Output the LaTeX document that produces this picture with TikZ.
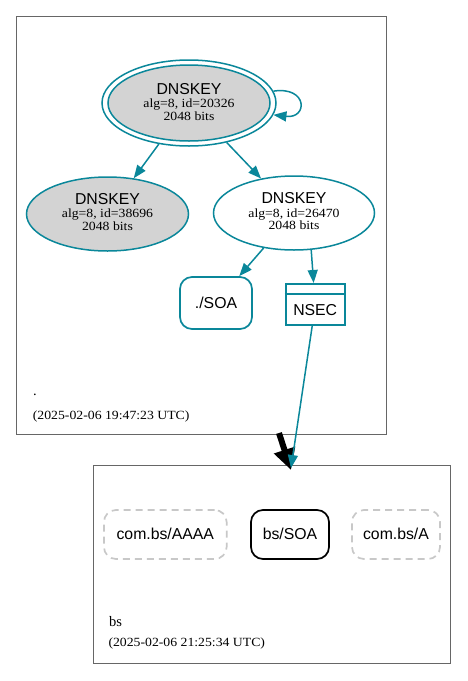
\documentclass[tikz,border=0pt]{standalone}
\usepackage{fontspec}
\setmainfont{Liberation Serif}
\setsansfont{Liberation Sans}
\newfontfamily\subfont[FakeStretch=1.1]{Liberation Serif}
\usetikzlibrary{shapes.geometric,arrows.meta}
\definecolor{teal0}{HTML}{0A879A}
\definecolor{keygray}{HTML}{D3D3D3}
\definecolor{clgray}{HTML}{666666}
\definecolor{dashgray}{HTML}{C8C8C8}
\begin{document}
\begin{tikzpicture}[x=1pt,y=-1pt,
  lbl/.style={font=\sffamily\fontsize{15.8}{16}\selectfont, anchor=base, inner sep=0},
  sub/.style={font=\subfont\fontsize{12.5}{13}\selectfont, anchor=base, inner sep=0},
  zlbl/.style={font=\fontsize{14.5}{15}\selectfont, anchor=base west, inner sep=0},
  zts/.style={font=\subfont\fontsize{12.5}{13}\selectfont, anchor=base west, inner sep=0},
  cl/.style={draw=clgray, line width=0.9pt, inner sep=0},
  key/.style={ellipse, draw=teal0, line width=1.5pt, inner sep=0},
  edge/.style={draw=teal0, line width=1.5pt, -{Triangle[length=13pt,width=10pt]}},
  rec/.style={rectangle, rounded corners=12pt, inner sep=0, line width=1.7pt,
    font=\sffamily\fontsize{15.8}{16}\selectfont, text height=11.3pt, text depth=1.3pt},
  ghost/.style={rec, draw=dashgray, dash pattern=on 7pt off 5pt},
]
\useasboundingbox (0,0) rectangle (467,681);
% clusters
\node[cl, minimum width=370.5pt, minimum height=418pt] (topcl) at (201.25,225) {};
\node[cl, minimum width=357.4pt, minimum height=197.3pt] (botcl) at (272,564.3) {};
\node[zlbl] (z1) at (33,395) {.};
\node[zts] (t1) at (32.7,419) {(2025-02-06 19:47:23 UTC)};
\node[zlbl] (z2) at (109,626) {bs};
\node[zts] (t2) at (108.3,646) {(2025-02-06 21:25:34 UTC)};
% keys
\node[key, fill=white, minimum width=174pt, minimum height=86pt] (k1) at (189,103) {};
\draw[teal0, line width=1.5pt, fill=keygray] (k1.center) ellipse [x radius=81pt, y radius=38pt];
\node[lbl] (k1a) at (189,94.3) {DNSKEY};
\node[sub] (k1b) at (189,107.7) {alg=8, id=20326};
\node[sub] (k1c) at (189,120) {2048 bits};
\node[key, fill=keygray, minimum width=162pt, minimum height=74pt] (k2) at (107.5,214) {};
\node[lbl] (k2a) at (107.5,204.5) {DNSKEY};
\node[sub] (k2b) at (107.5,217.5) {alg=8, id=38696};
\node[sub] (k2c) at (107.5,230) {2048 bits};
\node[key, fill=white, minimum width=161pt, minimum height=74pt] (k3) at (294,213) {};
\node[lbl] (k3a) at (294,203.8) {DNSKEY};
\node[sub] (k3b) at (294,217) {alg=8, id=26470};
\node[sub] (k3c) at (294,229.5) {2048 bits};
% records
\node[rec, draw=teal0, minimum width=72pt, minimum height=52pt] (soa) at (216,303) {./SOA};
\node[rectangle, draw=teal0, line width=2pt, inner sep=0, minimum width=59pt, minimum height=41pt] (nsec) at (315.2,304.5) {};
\draw[teal0, line width=2pt] ([yshift=-11pt]nsec.north west) -- ([yshift=-11pt]nsec.north east);
\node[lbl] (nseca) at (315.2,315) {NSEC};
\node[ghost, minimum width=122.7pt, minimum height=49pt] (aaaa) at (165.3,534.5) {com.bs/AAAA};
\node[rec, draw=black, minimum width=78pt, minimum height=49pt] (bssoa) at (290,534.5) {bs/SOA};
\node[ghost, minimum width=88pt, minimum height=49pt] (arec) at (396,534.5) {com.bs/A};
% edges
\coordinate (a1) at (279,433);
\coordinate (a2) at (291,470);
\draw[line width=6pt, -{Triangle[length=21pt,width=21pt]}] (a1) -- (a2);
\draw[edge] (k1.8) .. controls (308,86) and (308,119) .. (k1.-8);
\draw[edge] (k1) -- (k2);
\draw[edge] (k1) -- (k3);
\draw[edge] (k3) -- (soa);
\draw[edge] (k3.-65) -- (nsec);
\coordinate (e1) at (291,468);
\draw[edge] ([xshift=-3pt]nsec.south) -- (e1);
\end{tikzpicture}
\end{document}
